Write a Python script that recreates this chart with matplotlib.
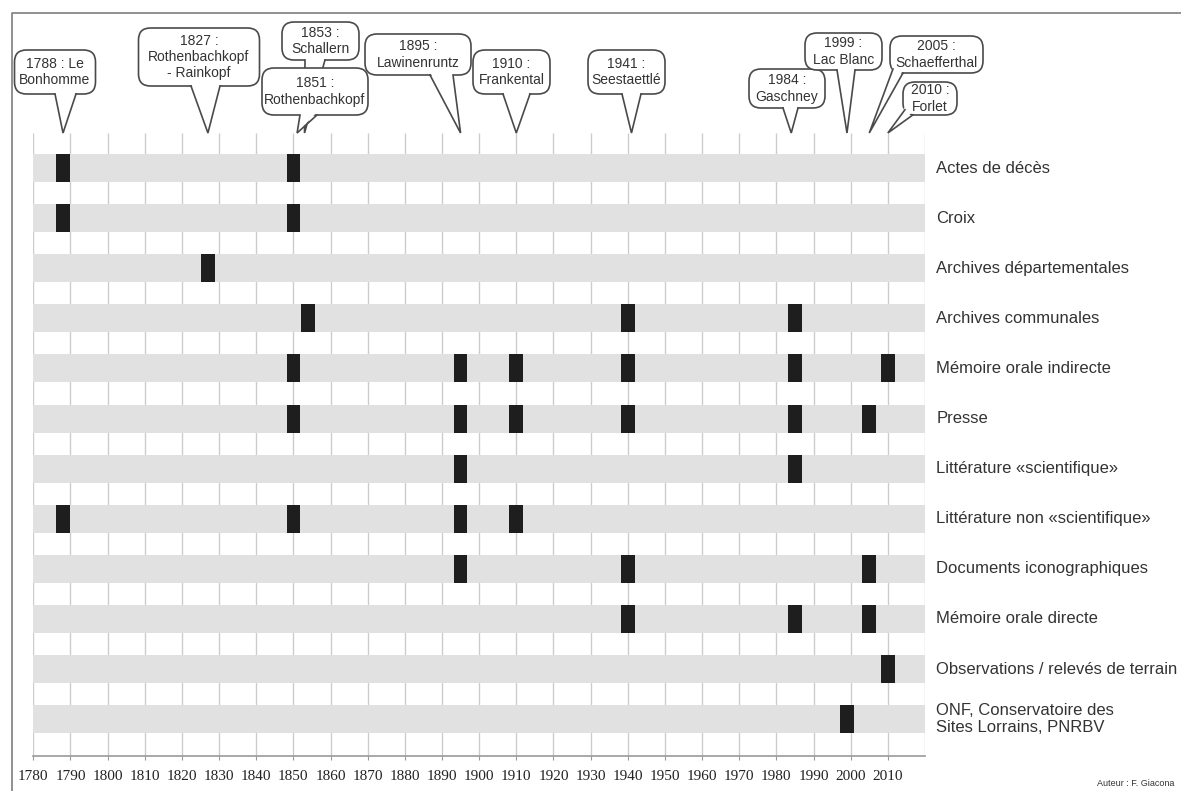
import matplotlib
matplotlib.use('Agg')
import matplotlib.pyplot as plt
from matplotlib.patches import FancyBboxPatch, Polygon
import numpy as np

plt.rcParams['font.family'] = ['Liberation Sans', 'DejaVu Sans']

# --- data ---------------------------------------------------------------
sources = [
    'Actes de décès',
    'Croix',
    'Archives départementales',
    'Archives communales',
    'Mémoire orale indirecte',
    'Presse',
    'Littérature «scientifique»',
    'Littérature non «scientifique»',
    'Documents iconographiques',
    'Mémoire orale directe',
    'Observations / relevés de terrain',
    'ONF, Conservatoire des\nSites Lorrains, PNRBV',
]

# years marked for each source (centre of the black mark)
source_years = [
    [1788, 1850],
    [1788, 1850],
    [1827],
    [1854, 1940, 1985],
    [1850, 1895, 1910, 1940, 1985, 2010],
    [1850, 1895, 1910, 1940, 1985, 2005],
    [1895, 1985],
    [1788, 1850, 1895, 1910],
    [1895, 1940, 2005],
    [1940, 1985, 2005],
    [2010],
    [1999],
]

tick_years = list(range(1780, 2011, 10))

event_years = [1788, 1827, 1853, 1851, 1895, 1910, 1941, 1984, 1999, 2005, 2010]
event_labels = [
    '1788 : Le\nBonhomme',
    '1827 :\nRothenbachkopf\n- Rainkopf',
    '1853 :\nSchallern',
    '1851 :\nRothenbachkopf',
    '1895 :\nLawinenruntz',
    '1910 :\nFrankental',
    '1941 :\nSeestaettlé',
    '1984 :\nGaschney',
    '1999 :\nLac Blanc',
    '2005 :\nSchaefferthal',
    '2010 :\nForlet',
]

# callout boxes, in pixels from the top-left corner: left, top, width, height,
# and the x of the two points where the pointer leaves the box
callout_boxes = [
    (14.5, 50, 81, 44, 55, 76),
    (138.5, 28, 121, 58, 191, 220),
    (282, 22, 77, 38, 305, 325),
    (262, 68, 106, 47, 300, 317),
    (365, 34, 106, 41, 430, 453),
    (473, 50, 77, 44, 503, 530),
    (588, 50, 77, 44, 622, 641),
    (749, 69, 76, 39, 783, 798),
    (805, 33, 77, 37, 837, 855),
    (890, 36, 93, 37, 893, 903),
    (903, 82, 54, 33, 905, 913),
]

W, H = 1181, 791
BAND = '#e1e1e1'
MARK = '#1e1e1e'
GRID = '#cccccc'
TXT = '#333333'
EDGE = '#4a4a4a'

fig = plt.figure(figsize=(W / 100, H / 100), dpi=100)
ax = fig.add_axes([33.3 / W, 1 - 755.7 / H, (925 - 33.3) / W, (755.7 - 133) / H])
ax.set_xlim(1780, 2020)
ax.set_ylim(11.73, -0.70)

ax.vlines(range(1780, 2021, 10), -0.70, 11.73, color=GRID, lw=1.0, zorder=1)
n = len(sources)
ax.barh(range(n), 240, left=1780, height=0.56, color=BAND, zorder=2)
for i, yrs in enumerate(source_years):
    yrs = np.array(yrs, dtype=float)
    ax.barh([i] * len(yrs), 3.7, left=yrs - 1.85, height=0.56,
            color=MARK, zorder=3)

for i, lab in enumerate(sources):
    ax.text(2023, i, lab, ha='left', va='center', fontsize=12, color=TXT,
            linespacing=1.15, clip_on=False)

for s in ['top', 'right', 'left']:
    ax.spines[s].set_visible(False)
ax.spines['bottom'].set_color('#999999')
ax.spines['bottom'].set_linewidth(1.2)
ax.set_yticks([])
ax.set_xticks(tick_years)
ax.set_xticklabels([str(y) for y in tick_years], family='Liberation Serif',
                   fontsize=11, color='#222222')
ax.tick_params(axis='x', length=3, color='#999999', pad=7)

# --- overlay in pixel coordinates for frame and callouts ------------------
ov = fig.add_axes([0, 0, 1, 1])
ov.set_xlim(0, W)
ov.set_ylim(H, 0)
ov.axis('off')
ov.set_zorder(5)

ov.plot([12, 12, W], [H, 13, 13], color='#888888', lw=1.3)
ov.text(1097, 783, 'Auteur : F. Giacona', fontsize=6.5, ha='left',
        va='center', color=TXT)


def edge_y(x, left, w, bottom, r):
    if x < left + r:
        dx = left + r - x
    elif x > left + w - r:
        dx = x - (left + w - r)
    else:
        return bottom
    return bottom - r + np.sqrt(max(r * r - dx * dx, 0))


tip_y = 133
r = 12
for k, (year, lab, box) in enumerate(zip(event_years, event_labels, callout_boxes)):
    left, top, w, h, b0, b1 = box
    z = 10 + 4 * k
    bottom = top + h
    tip_x = ax.transData.transform((year, 0))[0]
    y0 = edge_y(b0, left, w, bottom, r)
    y1 = edge_y(b1, left, w, bottom, r)
    ov.add_patch(FancyBboxPatch((left, top), w, h,
                                boxstyle='round,pad=0,rounding_size=%d' % r,
                                fc='white', ec=EDGE, lw=1.2, zorder=z))
    ov.add_patch(Polygon([(b0, y0 - 3), (b1, y1 - 3), (tip_x, tip_y)],
                         closed=True, fc='white', ec='none', zorder=z + 1))
    ov.plot([b0, tip_x, b1], [y0, tip_y, y1], color=EDGE, lw=1.2,
            zorder=z + 2, solid_joinstyle='miter')
    ov.text(left + w / 2, top + h / 2, lab, ha='center', va='center',
            fontsize=10, color=TXT, linespacing=1.2, zorder=z + 3)

fig.savefig('out.png', dpi=100)
